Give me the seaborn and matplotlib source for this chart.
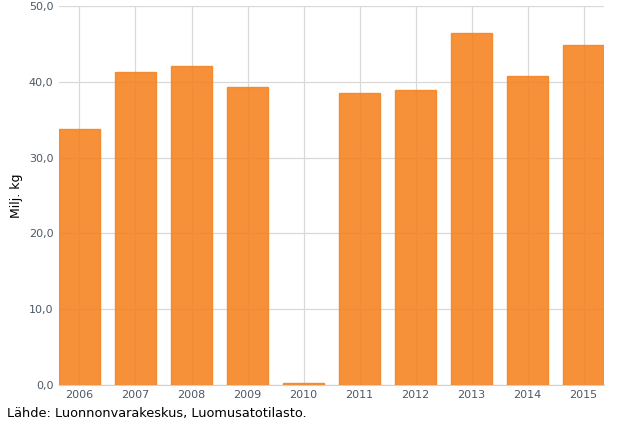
import pandas as pd
import matplotlib.pyplot as plt
import seaborn as sns

years = ["2006", "2007", "2008", "2009", "2010", "2011", "2012", "2013", "2014", "2015"]
values = [33.8, 41.3, 42.1, 39.3, 0.3, 38.5, 38.9, 46.4, 40.8, 44.9]
y_ticks = [0, 10, 20, 30, 40, 50]

df = pd.DataFrame({"year": years, "value": values})

sns.set_style("white")
plt.rcParams["font.family"] = ["DejaVu Sans"]

bar_width = 0.73

fig = plt.figure(figsize=(6.18, 4.32), dpi=100)
ax = fig.add_axes([0.0955, 0.109, 0.882, 0.877])

sns.barplot(data=df, x="year", y="value", color="#f5821f", saturation=1,
            width=bar_width, alpha=0.88, edgecolor="#f5821f", linewidth=1, ax=ax)

# bars sit flush against the plot edges
ax.set_xlim(-bar_width / 2, len(years) - 1 + bar_width / 2)
ax.set_ylim(0, 50)
ax.set_yticks(y_ticks)
ax.set_yticklabels([f"{t:.1f}".replace(".", ",") for t in y_ticks])
ax.grid(True, color="#d9d9d9", linewidth=0.9)
ax.set_axisbelow(True)
for side in ["top", "right", "left"]:
    ax.spines[side].set_visible(False)
ax.spines["bottom"].set_color("#d0d0d0")
ax.tick_params(axis="both", length=0, labelsize=8, colors="#4d5866", pad=4)
ax.set_xlabel("")
ax.set_ylabel("Milj. kg", fontsize=9, color="#000000", labelpad=4)

fig.text(0.011, 0.035, "Lähde: Luonnonvarakeskus, Luomusatotilasto.", fontsize=9.3, color="#000000")

plt.savefig("out.png", dpi=100)
plt.close()
